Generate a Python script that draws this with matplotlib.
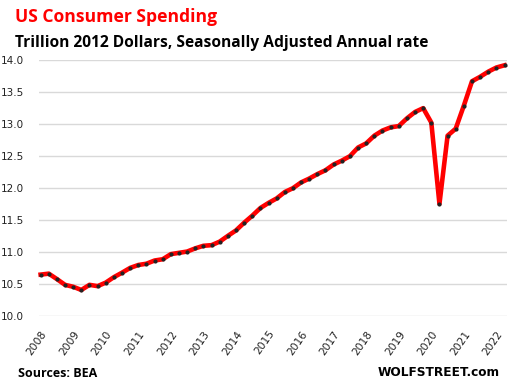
import numpy as np
import matplotlib.pyplot as plt

# Real consumer spending, trillion 2012 dollars, quarterly 2008Q1 - 2022Q2
years = list(range(2008, 2023))
spending = [
    10.65, 10.665, 10.58, 10.49,   # 2008
    10.46, 10.41, 10.49, 10.47,    # 2009
    10.525, 10.61, 10.68, 10.755,  # 2010
    10.80, 10.82, 10.87, 10.89,    # 2011
    10.97, 10.99, 11.01, 11.06,    # 2012
    11.10, 11.11, 11.165, 11.255,  # 2013
    11.34, 11.46, 11.57, 11.69,    # 2014
    11.77, 11.84, 11.94, 12.00,    # 2015
    12.09, 12.15, 12.22, 12.28,    # 2016
    12.37, 12.43, 12.50, 12.635,   # 2017
    12.70, 12.82, 12.90, 12.95,    # 2018
    12.97, 13.09, 13.19, 13.25,    # 2019
    13.025, 11.755, 12.82, 12.93,  # 2020
    13.29, 13.67, 13.74, 13.82,    # 2021
    13.885, 13.92,                 # 2022
]
y_ticks = [10.0, 10.5, 11.0, 11.5, 12.0, 12.5, 13.0, 13.5, 14.0]

x = np.arange(len(spending))
tick_pos = [4 * i for i in range(len(years))]

fig = plt.figure(figsize=(5.11, 3.88), dpi=100)
ax = fig.add_axes([39 / 511, 0.185, 468 / 511, 0.66])

ax.plot(x, spending, color="#ff0000", linewidth=3.3, zorder=3, clip_on=False)
ax.plot(x, spending, "o", color="#222222", markersize=2.0, zorder=4, clip_on=False)

ax.set_ylim(10, 14)
ax.set_xlim(-0.2, 57.3)
ax.set_yticks(y_ticks)
ax.set_yticklabels([f"{v:.1f}" for v in y_ticks], fontsize=7.5, color="#222222")
ax.set_xticks(tick_pos)
ax.set_xticklabels([str(yr) for yr in years], rotation=55, ha="right",
                   rotation_mode="anchor", fontsize=7.7, color="#222222")
ax.tick_params(length=0)
ax.tick_params(axis="x", pad=9)
ax.tick_params(axis="y", pad=11)
ax.grid(axis="y", color="#d9d9d9", linewidth=1)
ax.set_axisbelow(True)
for s in ax.spines.values():
    s.set_visible(False)

fig.text(15 / 511, 1 - 22 / 388, "US Consumer Spending", color="#ff0000",
         fontsize=12.6, fontweight="bold", family="Open Sans", va="baseline")
fig.text(15 / 511, 1 - 47 / 388, "Trillion 2012 Dollars, Seasonally Adjusted Annual rate",
         color="black", fontsize=11.2, fontweight="bold", family="Open Sans", va="baseline")
fig.text(18 / 511, 1 - 377 / 388, "Sources: BEA", fontsize=9, fontweight="bold",
         family="Open Sans", va="baseline")
fig.text(500 / 511, 1 - 376 / 388, "WOLFSTREET.com", fontsize=8.7, fontweight="bold",
         family="DejaVu Sans", ha="right", va="baseline")

fig.savefig("out.png", dpi=100)
